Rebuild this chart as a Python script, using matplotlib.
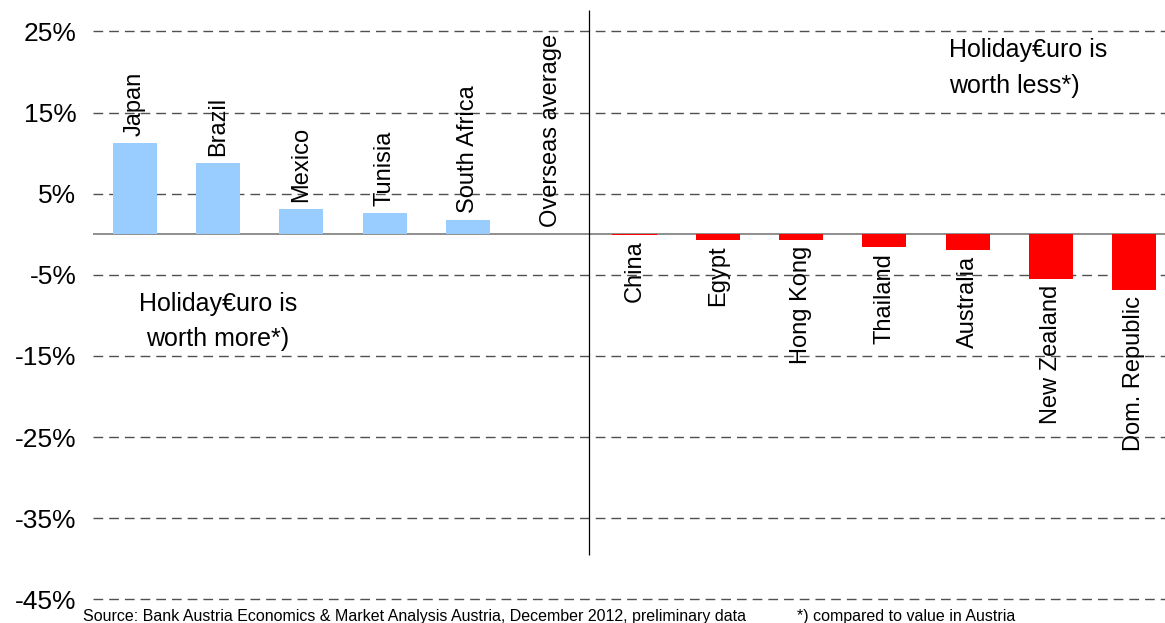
import matplotlib
matplotlib.use("Agg")
import matplotlib.pyplot as plt

# data (% difference vs. Austria)
countries = ["Japan", "Brazil", "Mexico", "Tunisia", "South Africa", "Overseas average",
             "China", "Egypt", "Hong Kong", "Thailand", "Australia", "New Zealand", "Dom. Republic"]
values = [11.2, 8.8, 3.1, 2.6, 1.8, 0.0,
          -0.1, -0.7, -0.7, -1.6, -2.0, -5.5, -6.9]
yticks = [25, 15, 5, -5, -15, -25, -35, -45]
ytick_labels = ["25%", "15%", "5%", "-5%", "-15%", "-25%", "-35%", "-45%"]

plt.rcParams["font.family"] = ["Liberation Sans", "DejaVu Sans"]

fig = plt.figure(figsize=(11.65, 6.23), dpi=100)
ax = fig.add_axes([93 / 1165, 0.036, 1083 / 1165, 0.948])

x = list(range(len(countries)))
colors = ["#99CCFF" if v >= 0 else "#FF0000" for v in values]
ax.bar(x, values, width=0.53, color=colors, zorder=3)

ax.set_xlim(-0.5, 12.5)
ax.set_ylim(-45.15, 27.64)
ax.set_yticks(yticks)
ax.set_yticklabels(ytick_labels, fontsize=19)
ax.set_xticks([])
ax.tick_params(axis="y", length=0, pad=12)
for s in ax.spines.values():
    s.set_visible(False)
ax.yaxis.grid(True, linestyle=(0, (7, 4.3)), color="#505050", linewidth=1)
ax.set_axisbelow(True)
ax.axhline(0, color="#707070", linewidth=1.1, zorder=2)
ax.vlines(5.45, -39.5, 27.64, color="black", linewidth=0.9, zorder=4)

# country labels above / below the bars
for i, (c, v) in enumerate(zip(countries, values)):
    if v >= 0:
        ax.annotate(c, (i, v), xytext=(0, 5), textcoords="offset points",
                    rotation=90, ha="center", va="bottom", fontsize=17)
    else:
        ax.annotate(c, (i, v), xytext=(0, -4), textcoords="offset points",
                    rotation=90, ha="center", va="top", fontsize=17)

ax.text(1.0, -13.77, "Holiday€uro is\nworth more*)", ha="center", va="baseline",
        multialignment="center", fontsize=18, linespacing=1.6)
ax.text(9.78, 17.45, "Holiday€uro is\nworth less*)", ha="left", va="baseline",
        multialignment="left", fontsize=18, linespacing=1.6)

fig.text(83 / 1165, 0.004, "Source: Bank Austria Economics & Market Analysis Austria, December 2012, preliminary data",
         fontsize=11.5, ha="left", va="baseline")
fig.text(797 / 1165, 0.004, "*) compared to value in Austria", fontsize=11.5, ha="left", va="baseline")

fig.savefig("out.png", dpi=100)
